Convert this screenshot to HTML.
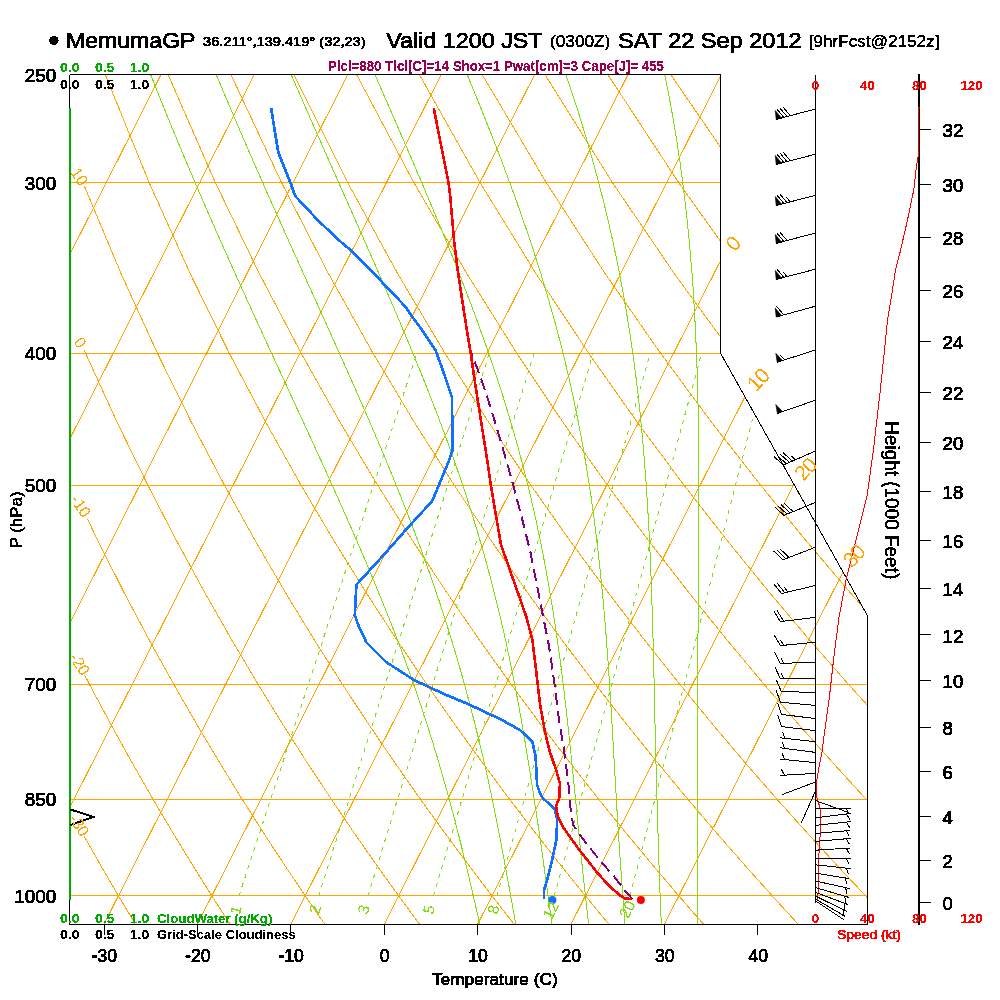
<!DOCTYPE html>
<html><head><meta charset="utf-8"><title>Skew-T MemumaGP</title>
<style>html,body{margin:0;padding:0;background:#fff;overflow:hidden}svg{display:block}text{font-family:"Liberation Sans",sans-serif}</style>
</head><body>
<svg width="1000" height="1000" viewBox="0 0 1000 1000">
<rect width="1000" height="1000" fill="#fff"/>
<defs><clipPath id="fc"><path d="M69.5,74.5 L720.5,74.5 L720.5,353.13 L867.5,615.75 L867.5,924.5 L69.5,924.5 Z"/></clipPath><filter id="thr" x="0" y="0" width="1000" height="1000" filterUnits="userSpaceOnUse" color-interpolation-filters="sRGB"><feComponentTransfer><feFuncA type="discrete" tableValues="0 0 1 1 1"/></feComponentTransfer></filter><filter id="thr2" x="0" y="0" width="1000" height="1000" filterUnits="userSpaceOnUse" color-interpolation-filters="sRGB"><feComponentTransfer><feFuncA type="discrete" tableValues="0 0 0 1 1 1"/></feComponentTransfer></filter></defs>
<g clip-path="url(#fc)" shape-rendering="crispEdges">
<path d="M69.5,182.5 L720.5,182.5" fill="none" stroke="#FFA500" stroke-width="1" />
<path d="M69.5,353.5 L720.71,353.5" fill="none" stroke="#FFA500" stroke-width="1" />
<path d="M69.5,485.5 L794.59,485.5" fill="none" stroke="#FFA500" stroke-width="1" />
<path d="M69.5,684.5 L867.5,684.5" fill="none" stroke="#FFA500" stroke-width="1" />
<path d="M69.5,799.5 L867.5,799.5" fill="none" stroke="#FFA500" stroke-width="1" />
<path d="M69.5,895.5 L867.5,895.5" fill="none" stroke="#FFA500" stroke-width="1" />
<path d="M-550.03,924.75 L-52.29,-57.42" fill="none" stroke="#FFA500" stroke-width="1" />
<path d="M-456.63,924.75 L41.11,-57.42" fill="none" stroke="#FFA500" stroke-width="1" />
<path d="M-363.23,924.75 L134.51,-57.42" fill="none" stroke="#FFA500" stroke-width="1" />
<path d="M-269.83,924.75 L227.91,-57.42" fill="none" stroke="#FFA500" stroke-width="1" />
<path d="M-176.43,924.75 L321.31,-57.42" fill="none" stroke="#FFA500" stroke-width="1" />
<path d="M-83.03,924.75 L414.71,-57.42" fill="none" stroke="#FFA500" stroke-width="1" />
<path d="M10.37,924.75 L508.11,-57.42" fill="none" stroke="#FFA500" stroke-width="1" />
<path d="M103.77,924.75 L601.51,-57.42" fill="none" stroke="#FFA500" stroke-width="1" />
<path d="M197.17,924.75 L694.91,-57.42" fill="none" stroke="#FFA500" stroke-width="1" />
<path d="M290.57,924.75 L788.31,-57.42" fill="none" stroke="#FFA500" stroke-width="1" />
<path d="M383.97,924.75 L881.71,-57.42" fill="none" stroke="#FFA500" stroke-width="1" />
<path d="M477.37,924.75 L975.11,-57.42" fill="none" stroke="#FFA500" stroke-width="1" />
<path d="M570.77,924.75 L1068.51,-57.42" fill="none" stroke="#FFA500" stroke-width="1" />
<path d="M664.17,924.75 L1161.91,-57.42" fill="none" stroke="#FFA500" stroke-width="1" />
<path d="M84.21,836.25 L100.74,865.47 L118.41,895.85 L135.68,924.75" fill="none" stroke="#FFA500" stroke-width="1" />
<path d="M84.65,675 L89.58,684.59 L111.42,725.46 L132.61,763.68 L153.21,799.59 L173.25,833.45 L192.78,865.47 L211.81,895.85 L230.39,924.75" fill="none" stroke="#FFA500" stroke-width="1" />
<path d="M87.35,518.75 L98.39,541.75 L124.47,593.29 L149.62,640.7 L173.92,684.59 L197.44,725.46 L220.24,763.68 L242.37,799.59 L263.88,833.45 L284.82,865.47 L305.21,895.85 L325.11,924.75" fill="none" stroke="#FFA500" stroke-width="1" />
<path d="M84.35,350.4 L85.51,353.13 L117.41,422.9 L147.89,485.3 L177.11,541.75 L205.17,593.29 L232.19,640.7 L258.26,684.59 L283.46,725.46 L307.86,763.68 L331.53,799.59 L354.51,833.45 L376.86,865.47 L398.61,895.85 L419.82,924.75" fill="none" stroke="#FFA500" stroke-width="1" />
<path d="M84.53,186.4 L121.21,274.04 L157.38,353.13 L191.74,422.9 L224.5,485.3 L255.83,541.75 L285.88,593.29 L314.76,640.7 L342.6,684.59 L369.49,725.46 L395.49,763.68 L420.69,799.59 L445.14,833.45 L468.9,865.47 L492.01,895.85 L514.53,924.75" fill="none" stroke="#FFA500" stroke-width="1" />
<path d="M82.29,12.35 L105.33,74.75 L149.19,182.74 L190.38,274.04 L229.24,353.13 L266.07,422.9 L301.1,485.3 L334.55,541.75 L366.58,593.29 L397.34,640.7 L426.95,684.59 L455.51,725.46 L483.12,763.68 L509.84,799.59 L535.77,833.45 L560.94,865.47 L585.41,895.85 L609.24,924.75" fill="none" stroke="#FFA500" stroke-width="1" />
<path d="M143.25,12.35 L168.16,74.75 L215.39,182.74 L259.56,274.04 L301.11,353.13 L340.4,422.9 L377.71,485.3 L413.27,541.75 L447.28,593.29 L479.91,640.7 L511.29,684.59 L541.53,725.46 L570.74,763.68 L599,799.59 L626.39,833.45 L652.98,865.47 L678.81,895.85 L703.96,924.75" fill="none" stroke="#FFA500" stroke-width="1" />
<path d="M204.21,12.35 L230.99,74.75 L281.58,182.74 L328.73,274.04 L372.98,353.13 L414.73,422.9 L454.31,485.3 L491.99,541.75 L527.99,593.29 L562.48,640.7 L595.63,684.59 L627.55,725.46 L658.37,763.68 L688.16,799.59 L717.02,833.45 L745.02,865.47 L772.21,895.85 L798.67,924.75" fill="none" stroke="#FFA500" stroke-width="1" />
<path d="M265.18,12.35 L293.82,74.75 L347.77,182.74 L397.91,274.04 L444.85,353.13 L489.06,422.9 L530.91,485.3 L570.71,541.75 L608.69,593.29 L645.06,640.7 L679.97,684.59 L713.58,725.46 L745.99,763.68 L777.32,799.59 L807.65,833.45 L837.06,865.47 L865.61,895.85 L893.38,924.75" fill="none" stroke="#FFA500" stroke-width="1" />
<path d="M326.14,12.35 L356.65,74.75 L413.96,182.74 L467.08,274.04 L516.72,353.13 L563.39,422.9 L607.52,485.3 L649.43,541.75 L689.4,593.29 L727.63,640.7 L764.31,684.59 L799.6,725.46 L833.62,763.68 L866.48,799.59 L898.28,833.45 L929.1,865.47 L959.01,895.85 L988.09,924.75" fill="none" stroke="#FFA500" stroke-width="1" />
<path d="M387.1,12.35 L419.48,74.75 L480.15,182.74 L536.26,274.04 L588.58,353.13 L637.72,422.9 L684.12,485.3 L728.15,541.75 L770.1,593.29 L810.2,640.7 L848.66,684.59 L885.62,725.46 L921.24,763.68 L955.63,799.59 L988.9,833.45 L1021.14,865.47 L1052.41,895.85 L1082.81,924.75" fill="none" stroke="#FFA500" stroke-width="1" />
<path d="M448.07,12.35 L482.3,74.75 L546.34,182.74 L605.44,274.04 L660.45,353.13 L712.05,422.9 L760.73,485.3 L806.88,541.75 L850.81,593.29 L892.78,640.7 L933,684.59 L971.65,725.46 L1008.87,763.68 L1044.79,799.59 L1079.53,833.45 L1113.18,865.47 L1145.81,895.85 L1177.52,924.75" fill="none" stroke="#FFA500" stroke-width="1" />
<path d="M509.03,12.35 L545.13,74.75 L612.54,182.74 L674.61,274.04 L732.32,353.13 L786.38,422.9 L837.33,485.3 L885.6,541.75 L931.51,593.29 L975.35,640.7 L1017.34,684.59 L1057.67,725.46 L1096.49,763.68 L1133.95,799.59 L1170.16,833.45 L1205.22,865.47 L1239.21,895.85 L1272.23,924.75" fill="none" stroke="#FFA500" stroke-width="1" />
<path d="M570,12.35 L607.96,74.75 L678.73,182.74 L743.79,274.04 L804.19,353.13 L860.71,422.9 L913.94,485.3 L964.32,541.75 L1012.22,593.29 L1057.93,640.7 L1101.68,684.59 L1143.69,725.46 L1184.12,763.68 L1223.11,799.59 L1260.79,833.45 L1297.26,865.47 L1332.61,895.85 L1366.94,924.75" fill="none" stroke="#FFA500" stroke-width="1" />
<path d="M630.96,12.35 L670.79,74.75 L744.92,182.74 L812.96,274.04 L876.06,353.13 L935.04,422.9 L990.54,485.3 L1043.04,541.75 L1092.92,593.29 L1140.5,640.7 L1186.03,684.59 L1229.72,725.46 L1271.74,763.68 L1312.27,799.59 L1351.41,833.45 L1389.3,865.47 L1426.01,895.85 L1461.65,924.75" fill="none" stroke="#FFA500" stroke-width="1" />
<path d="M691.92,12.35 L733.62,74.75 L811.11,182.74 L882.14,274.04 L947.93,353.13 L1009.37,422.9 L1067.14,485.3 L1121.76,541.75 L1173.63,593.29 L1223.07,640.7 L1270.37,684.59 L1315.74,725.46 L1359.37,763.68 L1401.43,799.59 L1442.04,833.45 L1481.34,865.47 L1519.41,895.85 L1556.37,924.75" fill="none" stroke="#FFA500" stroke-width="1" />
<path d="M752.89,12.35 L796.45,74.75 L877.3,182.74 L951.31,274.04 L1019.79,353.13 L1083.7,422.9 L1143.75,485.3 L1200.48,541.75 L1254.33,593.29 L1305.65,640.7 L1354.71,684.59 L1401.76,725.46 L1447,763.68 L1490.58,799.59 L1532.67,833.45 L1573.38,865.47 L1612.81,895.85 L1651.08,924.75" fill="none" stroke="#FFA500" stroke-width="1" />
<path d="M813.85,12.35 L859.28,74.75 L943.49,182.74 L1020.49,274.04 L1091.66,353.13 L1158.03,422.9 L1220.35,485.3 L1279.2,541.75 L1335.03,593.29 L1388.22,640.7 L1439.05,684.59 L1487.78,725.46 L1534.62,763.68 L1579.74,799.59 L1623.3,833.45 L1665.42,865.47 L1706.21,895.85 L1745.79,924.75" fill="none" stroke="#FFA500" stroke-width="1" />
<path d="M874.81,12.35 L922.1,74.75 L1009.69,182.74 L1089.66,274.04 L1163.53,353.13 L1232.36,422.9 L1296.96,485.3 L1357.92,541.75 L1415.74,593.29 L1470.79,640.7 L1523.39,684.59 L1573.81,725.46 L1622.25,763.68 L1668.9,799.59 L1713.92,833.45 L1757.46,865.47 L1799.61,895.85 L1840.5,924.75" fill="none" stroke="#FFA500" stroke-width="1" />
<path d="M935.78,12.35 L984.93,74.75 L1075.88,182.74 L1158.84,274.04 L1235.4,353.13 L1306.69,422.9 L1373.56,485.3 L1436.64,541.75 L1496.44,593.29 L1553.37,640.7 L1607.74,684.59 L1659.83,725.46 L1709.87,763.68 L1758.06,799.59 L1804.55,833.45 L1849.49,865.47 L1893.01,895.85 L1935.22,924.75" fill="none" stroke="#FFA500" stroke-width="1" />
<path d="M996.74,12.35 L1047.76,74.75 L1142.07,182.74 L1228.01,274.04 L1307.27,353.13 L1381.02,422.9 L1450.16,485.3 L1515.36,541.75 L1577.15,593.29 L1635.94,640.7 L1692.08,684.59 L1745.85,725.46 L1797.5,763.68 L1847.22,799.59 L1895.18,833.45 L1941.53,865.47 L1986.41,895.85 L2029.93,924.75" fill="none" stroke="#FFA500" stroke-width="1" />
<path d="M479.92,924.75 L478.63,919.08 L477.34,913.36 L476.02,907.58 L474.69,901.75 L473.33,895.85 L471.95,889.9 L470.55,883.89 L469.11,877.81 L467.64,871.67 L466.14,865.47 L464.65,859.2 L463.09,852.87 L461.51,846.46 L459.89,839.99 L458.23,833.45 L456.53,826.83 L454.79,820.14 L453,813.37 L451.17,806.52 L449.3,799.59 L447.37,792.58 L445.4,785.49 L443.36,778.31 L441.28,771.04 L439.13,763.68 L436.92,756.23 L434.64,748.69 L432.3,741.05 L429.88,733.3 L427.39,725.46 L424.83,717.51 L422.18,709.45 L419.45,701.28 L416.63,692.99 L413.72,684.59 L410.72,676.07 L407.62,667.42 L404.42,658.65 L401.16,649.74 L397.75,640.7 L394.21,631.52 L390.57,622.19 L386.81,612.71 L382.94,603.08 L378.95,593.29 L374.85,583.33 L370.63,573.21 L366.28,562.91 L361.81,552.43 L357.21,541.75 L352.48,530.88 L347.62,519.81 L342.62,508.53 L337.49,497.03 L332.22,485.3 L326.8,473.33 L321.25,461.12 L315.55,448.65 L309.7,435.91 L303.71,422.9 L297.57,409.59 L291.28,395.97 L284.84,382.03 L278.24,367.76 L271.49,353.13 L264.59,338.14 L257.53,322.75 L250.3,306.96 L242.92,290.73 L235.38,274.04 L227.67,256.87 L219.8,239.19 L211.76,220.97 L203.55,202.16 L195.17,182.74 L186.62,162.66 L177.9,141.87 L169.01,120.33 L159.95,97.98 L150.71,74.75" fill="none" stroke="#80DD10" stroke-width="1" />
<path d="M515.87,924.75 L514.85,919.08 L513.83,913.36 L512.79,907.58 L511.75,901.75 L510.69,895.85 L509.62,889.9 L508.53,883.89 L507.43,877.81 L506.3,871.67 L505.14,865.47 L504.01,859.2 L502.82,852.87 L501.62,846.46 L500.38,839.99 L499.12,833.45 L497.83,826.83 L496.51,820.14 L495.15,813.37 L493.76,806.52 L492.33,799.59 L490.87,792.58 L489.35,785.49 L487.79,778.31 L486.19,771.04 L484.51,763.68 L482.77,756.23 L480.97,748.69 L479.13,741.05 L477.23,733.3 L475.27,725.46 L473.26,717.51 L471.18,709.45 L469.04,701.28 L466.82,692.99 L464.53,684.59 L462.16,676.07 L459.7,667.42 L457.16,658.65 L454.52,649.74 L451.79,640.7 L448.95,631.52 L446.04,622.19 L442.99,612.71 L439.84,603.08 L436.57,593.29 L433.17,583.33 L429.64,573.21 L425.99,562.91 L422.19,552.43 L418.25,541.75 L414.17,530.88 L409.93,519.81 L405.54,508.53 L400.99,497.03 L396.28,485.3 L391.4,473.33 L386.34,461.12 L381.12,448.65 L375.71,435.91 L370.12,422.9 L364.35,409.59 L358.39,395.97 L352.24,382.03 L345.89,367.76 L339.35,353.13 L332.62,338.14 L325.68,322.75 L318.55,306.96 L311.2,290.73 L303.65,274.04 L295.9,256.87 L287.93,239.19 L279.75,220.97 L271.35,202.16 L262.73,182.74 L253.9,162.66 L244.84,141.87 L235.56,120.33 L226.05,97.98 L216.32,74.75" fill="none" stroke="#80DD10" stroke-width="1" />
<path d="M552.04,924.75 L551.25,919.08 L550.45,913.36 L549.66,907.58 L548.86,901.75 L548.05,895.85 L547.24,889.9 L546.42,883.89 L545.59,877.81 L544.74,871.67 L543.87,865.47 L542.99,859.2 L542.14,852.87 L541.24,846.46 L540.32,839.99 L539.35,833.45 L538.36,826.83 L537.36,820.14 L536.35,813.37 L535.31,806.52 L534.26,799.59 L533.19,792.58 L532.09,785.49 L530.97,778.31 L529.83,771.04 L528.65,763.68 L527.44,756.23 L526.2,748.69 L524.93,741.05 L523.61,733.3 L522.25,725.46 L520.85,717.51 L519.4,709.45 L517.9,701.28 L516.34,692.99 L514.73,684.59 L513.06,676.07 L511.31,667.42 L509.5,658.65 L507.62,649.74 L505.65,640.7 L503.6,631.52 L501.46,622.19 L499.22,612.71 L496.88,603.08 L494.43,593.29 L491.88,583.33 L489.2,573.21 L486.4,562.91 L483.47,552.43 L480.4,541.75 L477.18,530.88 L473.81,519.81 L470.28,508.53 L466.58,497.03 L462.71,485.3 L458.66,473.33 L454.42,461.12 L449.99,448.65 L445.35,435.91 L440.5,422.9 L435.44,409.59 L430.15,395.97 L424.64,382.03 L418.89,367.76 L412.9,353.13 L406.66,338.14 L400.17,322.75 L393.43,306.96 L386.43,290.73 L379.16,274.04 L371.63,256.87 L363.82,239.19 L355.74,220.97 L347.45,202.16 L338.82,182.74 L329.9,162.66 L320.69,141.87 L311.18,120.33 L301.38,97.98 L291.28,74.75" fill="none" stroke="#80DD10" stroke-width="1" />
<path d="M588.6,924.75 L587.98,919.08 L587.35,913.36 L586.71,907.58 L586.07,901.75 L585.41,895.85 L584.75,889.9 L584.09,883.89 L583.43,877.81 L582.78,871.67 L582.12,865.47 L581.46,859.2 L580.8,852.87 L580.18,846.46 L579.53,839.99 L578.88,833.45 L578.22,826.83 L577.56,820.14 L576.89,813.37 L576.22,806.52 L575.54,799.59 L574.85,792.58 L574.15,785.49 L573.43,778.31 L572.7,771.04 L571.96,763.68 L571.19,756.23 L570.41,748.69 L569.61,741.05 L568.78,733.3 L567.92,725.46 L567.03,717.51 L566.16,709.45 L565.22,701.28 L564.24,692.99 L563.23,684.59 L562.17,676.07 L561.06,667.42 L559.91,658.65 L558.7,649.74 L557.43,640.7 L556.11,631.52 L554.71,622.19 L553.25,612.71 L551.71,603.08 L550.08,593.29 L548.37,583.33 L546.57,573.21 L544.66,562.91 L542.65,552.43 L540.5,541.75 L538.27,530.88 L535.9,519.81 L533.37,508.53 L530.7,497.03 L527.88,485.3 L524.88,473.33 L521.72,461.12 L518.36,448.65 L514.81,435.91 L511.04,422.9 L507.06,409.59 L502.84,395.97 L498.38,382.03 L493.67,367.76 L488.68,353.13 L483.42,338.14 L477.87,322.75 L472.01,306.96 L465.84,290.73 L459.35,274.04 L452.52,256.87 L445.41,239.19 L437.9,220.97 L430.05,202.16 L421.82,182.74 L413.23,162.66 L404.25,141.87 L394.89,120.33 L385.14,97.98 L374.99,74.75" fill="none" stroke="#80DD10" stroke-width="1" />
<path d="M625,924.75 L624.55,919.08 L624.1,913.36 L623.65,907.58 L623.21,901.75 L622.77,895.85 L622.34,889.9 L621.91,883.89 L621.47,877.81 L621.03,871.67 L620.59,865.47 L620.18,859.2 L619.75,852.87 L619.31,846.46 L618.87,839.99 L618.43,833.45 L618,826.83 L617.59,820.14 L617.18,813.37 L616.77,806.52 L616.36,799.59 L615.96,792.58 L615.55,785.49 L615.14,778.31 L614.72,771.04 L614.3,763.68 L613.87,756.23 L613.44,748.69 L612.99,741.05 L612.53,733.3 L612.11,725.46 L611.64,717.51 L611.15,709.45 L610.65,701.28 L610.13,692.99 L609.59,684.59 L609.03,676.07 L608.44,667.42 L607.82,658.65 L607.17,649.74 L606.49,640.7 L605.77,631.52 L605.01,622.19 L604.21,612.71 L603.36,603.08 L602.45,593.29 L601.49,583.33 L600.47,573.21 L599.38,562.91 L598.22,552.43 L596.98,541.75 L595.66,530.88 L594.24,519.81 L592.72,508.53 L591.09,497.03 L589.35,485.3 L587.47,473.33 L585.46,461.12 L583.31,448.65 L580.97,435.91 L578.5,422.9 L575.83,409.59 L572.96,395.97 L569.87,382.03 L566.56,367.76 L563.01,353.13 L559.19,338.14 L555.09,322.75 L550.7,306.96 L545.98,290.73 L540.91,274.04 L535.49,256.87 L529.68,239.19 L523.46,220.97 L516.86,202.16 L509.8,182.74 L502.28,162.66 L494.28,141.87 L485.78,120.33 L476.78,97.98 L467.25,74.75" fill="none" stroke="#80DD10" stroke-width="1" />
<path d="M661.38,924.75 L661.11,919.08 L660.86,913.36 L660.61,907.58 L660.37,901.75 L660.13,895.85 L659.9,889.9 L659.68,883.89 L659.46,877.81 L659.24,871.67 L659.02,865.47 L658.8,859.2 L658.62,852.87 L658.42,846.46 L658.22,839.99 L658.02,833.45 L657.83,826.83 L657.63,820.14 L657.44,813.37 L657.24,806.52 L657.04,799.59 L656.85,792.58 L656.65,785.49 L656.44,778.31 L656.23,771.04 L656.02,763.68 L655.8,756.23 L655.61,748.69 L655.42,741.05 L655.23,733.3 L655.04,725.46 L654.9,717.51 L654.72,709.45 L654.53,701.28 L654.35,692.99 L654.16,684.59 L653.96,676.07 L653.76,667.42 L653.54,658.65 L653.32,649.74 L653.08,640.7 L652.83,631.52 L652.57,622.19 L652.28,612.71 L651.98,603.08 L651.65,593.29 L651.29,583.33 L650.91,573.21 L650.49,562.91 L650.04,552.43 L649.54,541.75 L649,530.88 L648.41,519.81 L647.71,508.53 L647,497.03 L646.22,485.3 L645.36,473.33 L644.42,461.12 L643.39,448.65 L642.27,435.91 L641.03,422.9 L639.74,409.59 L638.24,395.97 L636.59,382.03 L634.78,367.76 L632.76,353.13 L630.61,338.14 L628.22,322.75 L625.61,306.96 L622.74,290.73 L619.6,274.04 L616.16,256.87 L612.39,239.19 L608.26,220.97 L603.73,202.16 L598.76,182.74 L593.3,162.66 L587.36,141.87 L580.86,120.33 L573.78,97.98 L566.07,74.75" fill="none" stroke="#80DD10" stroke-width="1" />
<path d="M697.94,924.75 L697.84,919.08 L697.74,913.36 L697.65,907.58 L697.57,901.75 L697.49,895.85 L697.43,889.9 L697.37,883.89 L697.31,877.81 L697.26,871.67 L697.22,865.47 L697.17,859.2 L697.17,852.87 L697.14,846.46 L697.13,839.99 L697.12,833.45 L697.11,826.83 L697.11,820.14 L697.12,813.37 L697.13,806.52 L697.14,799.59 L697.16,792.58 L697.18,785.49 L697.21,778.31 L697.24,771.04 L697.27,763.68 L697.3,756.23 L697.34,748.69 L697.37,741.05 L697.41,733.3 L697.44,725.46 L697.48,717.51 L697.5,709.45 L697.58,701.28 L697.61,692.99 L697.64,684.59 L697.66,676.07 L697.72,667.42 L697.79,658.65 L697.87,649.74 L697.95,640.7 L698.03,631.52 L698.12,622.19 L698.22,612.71 L698.31,603.08 L698.4,593.29 L698.5,583.33 L698.59,573.21 L698.67,562.91 L698.76,552.43 L698.83,541.75 L698.86,530.88 L698.9,519.81 L698.93,508.53 L698.94,497.03 L698.92,485.3 L698.88,473.33 L698.81,461.12 L698.71,448.65 L698.56,435.91 L698.37,422.9 L698.13,409.59 L697.83,395.97 L697.45,382.03 L697.01,367.76 L696.47,353.13 L695.83,338.14 L695.09,322.75 L694.21,306.96 L693.25,290.73 L692.08,274.04 L690.57,256.87 L689.07,239.19 L687.26,220.97 L685.18,202.16 L682.8,182.74 L680.08,162.66 L676.97,141.87 L673.43,120.33 L669.37,97.98 L664.81,74.75" fill="none" stroke="#80DD10" stroke-width="1" />
<path d="M238.98,895.85 L416.95,353.13" fill="none" stroke="#80DD10" stroke-width="1" stroke-dasharray="4 5.4"/>
<path d="M318.68,895.85 L489.36,353.13" fill="none" stroke="#80DD10" stroke-width="1" stroke-dasharray="4 5.4"/>
<path d="M368.1,895.85 L534.1,353.13" fill="none" stroke="#80DD10" stroke-width="1" stroke-dasharray="4 5.4"/>
<path d="M433.53,895.85 L593.15,353.13" fill="none" stroke="#80DD10" stroke-width="1" stroke-dasharray="4 5.4"/>
<path d="M497,895.85 L650.24,353.13" fill="none" stroke="#80DD10" stroke-width="1" stroke-dasharray="4 5.4"/>
<path d="M554.35,895.85 L701.7,353.13" fill="none" stroke="#80DD10" stroke-width="1" stroke-dasharray="4 5.4"/>
<path d="M630.04,895.85 L769.39,353.13" fill="none" stroke="#80DD10" stroke-width="1" stroke-dasharray="4 5.4"/>
</g>
<g shape-rendering="crispEdges">
<path d="M69.5,74.5 L720.5,74.5 L720.5,353.13 L867.5,615.75 L867.5,924.5 L69.5,924.5 L69.5,74.5" fill="none" stroke="#000" stroke-width="1" />
<path d="M104.5,924.5 L104.5,935" fill="none" stroke="#000" stroke-width="1" />
<path d="M197.5,924.5 L197.5,935" fill="none" stroke="#000" stroke-width="1" />
<path d="M290.5,924.5 L290.5,935" fill="none" stroke="#000" stroke-width="1" />
<path d="M384.5,924.5 L384.5,935" fill="none" stroke="#000" stroke-width="1" />
<path d="M477.5,924.5 L477.5,935" fill="none" stroke="#000" stroke-width="1" />
<path d="M571.5,924.5 L571.5,935" fill="none" stroke="#000" stroke-width="1" />
<path d="M664.5,924.5 L664.5,935" fill="none" stroke="#000" stroke-width="1" />
<path d="M757.5,924.5 L757.5,935" fill="none" stroke="#000" stroke-width="1" />
<path d="M815.5,74.5 L815.5,902.5" fill="none" stroke="#000" stroke-width="1" />
<path d="M919,74 L919,925" fill="none" stroke="#000" stroke-width="2" />
<path d="M920,902.5 L930.5,902.5" fill="none" stroke="#000" stroke-width="1" />
<path d="M920,860.5 L930.5,860.5" fill="none" stroke="#000" stroke-width="1" />
<path d="M920,816.5 L930.5,816.5" fill="none" stroke="#000" stroke-width="1" />
<path d="M920,771.5 L930.5,771.5" fill="none" stroke="#000" stroke-width="1" />
<path d="M920,727.5 L930.5,727.5" fill="none" stroke="#000" stroke-width="1" />
<path d="M920,680.5 L930.5,680.5" fill="none" stroke="#000" stroke-width="1" />
<path d="M920,634.5 L930.5,634.5" fill="none" stroke="#000" stroke-width="1" />
<path d="M920,588.5 L930.5,588.5" fill="none" stroke="#000" stroke-width="1" />
<path d="M920,540.5 L930.5,540.5" fill="none" stroke="#000" stroke-width="1" />
<path d="M920,491.5 L930.5,491.5" fill="none" stroke="#000" stroke-width="1" />
<path d="M920,442.5 L930.5,442.5" fill="none" stroke="#000" stroke-width="1" />
<path d="M920,392.5 L930.5,392.5" fill="none" stroke="#000" stroke-width="1" />
<path d="M920,341.5 L930.5,341.5" fill="none" stroke="#000" stroke-width="1" />
<path d="M920,290.5 L930.5,290.5" fill="none" stroke="#000" stroke-width="1" />
<path d="M920,237.5 L930.5,237.5" fill="none" stroke="#000" stroke-width="1" />
<path d="M920,184.5 L930.5,184.5" fill="none" stroke="#000" stroke-width="1" />
<path d="M920,129.5 L930.5,129.5" fill="none" stroke="#000" stroke-width="1" />
<path d="M70,108 L70,900" fill="none" stroke="#00AA00" stroke-width="2" />
</g>
<path d="M70.5,809.5 L93.5,817 L70.5,825" fill="none" stroke="#000" stroke-width="2" shape-rendering="crispEdges"/>
<g stroke="#000" stroke-width="0.6" filter="url(#thr)">
<text x="942.5" y="909.5" font-size="18.5" fill="#000" textLength="10.3" lengthAdjust="spacingAndGlyphs" >0</text>
<text x="942.5" y="867.5" font-size="18.5" fill="#000" textLength="10.3" lengthAdjust="spacingAndGlyphs" >2</text>
<text x="942.5" y="823.75" font-size="18.5" fill="#000" textLength="10.3" lengthAdjust="spacingAndGlyphs" >4</text>
<text x="942.5" y="779.25" font-size="18.5" fill="#000" textLength="10.3" lengthAdjust="spacingAndGlyphs" >6</text>
<text x="942.5" y="735" font-size="18.5" fill="#000" textLength="10.3" lengthAdjust="spacingAndGlyphs" >8</text>
<text x="942.5" y="688.25" font-size="18.5" fill="#000" textLength="20.8" lengthAdjust="spacingAndGlyphs" >10</text>
<text x="942.5" y="642.5" font-size="18.5" fill="#000" textLength="20.8" lengthAdjust="spacingAndGlyphs" >12</text>
<text x="942.5" y="595.5" font-size="18.5" fill="#000" textLength="20.8" lengthAdjust="spacingAndGlyphs" >14</text>
<text x="942.5" y="547.5" font-size="18.5" fill="#000" textLength="20.8" lengthAdjust="spacingAndGlyphs" >16</text>
<text x="942.5" y="498.75" font-size="18.5" fill="#000" textLength="20.8" lengthAdjust="spacingAndGlyphs" >18</text>
<text x="942.5" y="449.5" font-size="18.5" fill="#000" textLength="20.8" lengthAdjust="spacingAndGlyphs" >20</text>
<text x="942.5" y="399.5" font-size="18.5" fill="#000" textLength="20.8" lengthAdjust="spacingAndGlyphs" >22</text>
<text x="942.5" y="349.25" font-size="18.5" fill="#000" textLength="20.8" lengthAdjust="spacingAndGlyphs" >24</text>
<text x="942.5" y="298" font-size="18.5" fill="#000" textLength="20.8" lengthAdjust="spacingAndGlyphs" >26</text>
<text x="942.5" y="245" font-size="18.5" fill="#000" textLength="20.8" lengthAdjust="spacingAndGlyphs" >28</text>
<text x="942.5" y="192" font-size="18.5" fill="#000" textLength="20.8" lengthAdjust="spacingAndGlyphs" >30</text>
<text x="942.5" y="137" font-size="18.5" fill="#000" textLength="20.8" lengthAdjust="spacingAndGlyphs" >32</text>
</g>
<g shape-rendering="crispEdges" stroke-linejoin="round">
<path d="M919,107.5 L918.5,153.75 L916.25,167.5 L913.75,190 L907.5,220 L900,252.5 L895.5,270 L891.25,297.5 L887.5,320 L884.5,350 L879.8,394.6 L873.5,449.2 L867.2,495.4 L856.7,537.4 L846.2,579.4 L839,617.2 L833.6,659.2 L829.4,697 L823.5,740 L822.1,751.9 L818.7,768.9 L816.5,782.5 L817,797.8 L820.1,808 L820.1,835.2 L818.7,859 L817.9,899.8" fill="none" stroke="#FF0000" stroke-width="1" />
<path d="M632.4,899.1 L625.2,890.8 L614,876.4 L601.2,862 L588.4,846 L578,832.4 L573.2,825.2 L570.8,810.8 L568.4,783.6 L565.2,759.6 L564.1,750 L559,720 L554,680 L549,646 L544,621 L537.6,588.8 L530.4,552 L521.6,516.8 L512,480.6 L501.6,444 L491.2,409.6 L481.6,380 L470,349.6" fill="none" stroke="#800080" stroke-width="2" stroke-dasharray="12 6"/>
<path d="M271.2,108.3 L274.4,128.8 L278.4,152.8 L284.8,168.8 L291.2,184.8 L295.2,196 L306.4,208 L318.4,220.8 L331.2,232.8 L341.1,242.1 L351.4,250.7 L361.2,260.5 L370.8,270.1 L386.8,287.2 L405.2,306.4 L411.6,316 L421.2,328.8 L435.6,350.4 L442,368 L447.6,384 L452,397.6 L452.5,450.4 L448,463.2 L432,501.6 L422.8,511.2 L406.8,528.8 L382.8,556 L356.4,584.8 L354.8,615.2 L358.8,626.4 L366.5,642.6 L386,662 L414,680 L444,694 L468,704 L500,719 L520,730 L532.4,742 L535.6,756 L537.1,785 L539.6,792.4 L542.8,798 L554.8,809.2 L557.2,818.8 L556.4,839.6 L552.4,858.8 L546.8,881.2 L543.9,890.8 L543.9,898.8" fill="none" stroke="#1070FF" stroke-width="2.7" />
<path d="M433.75,108 L441,145 L448.5,182.5 L450.2,196 L454,240 L458,272 L462.8,304 L466.8,329.6 L470.8,353.6 L474.6,380 L481.6,424.8 L487.2,460 L490.4,482.4 L494.4,506 L500.8,544 L512,576 L526.4,617 L532.4,640 L537,678 L540,704 L545,732 L549.6,751 L556.4,770.8 L559.9,783.6 L559.3,798 L556,806 L558,817.2 L562.8,826.8 L578.8,849.2 L596.4,871.6 L609.2,886 L620.4,895.6 L625.2,898.5 L632.4,899.1" fill="none" stroke="#FF0000" stroke-width="2.6" />
</g>
<circle cx="552.4" cy="900.1" r="4" fill="#1070FF"/>
<circle cx="640.9" cy="900.1" r="4" fill="#FF0000"/>
<path d="M815.5,109 L776.2,119.4 M783.84,117.38 L776.47,108.55 M787.03,116.53 L779.66,107.7 M790.22,115.69 L782.85,106.86 M815.5,154.2 L776.2,164.4 M783.85,162.42 L776.52,153.55 M787.04,161.59 L779.72,152.72 M790.23,160.76 L782.91,151.89 M815.5,195.3 L776.2,205.5 M783.85,203.52 L776.52,194.65 M787.04,202.69 L779.72,193.82 M790.23,201.86 L786.1,196.85 M815.5,233 L776.2,243.4 M783.84,241.38 L776.47,232.55 M787.03,240.53 L779.66,231.7 M815.5,269.2 L776.2,279.4 M783.85,277.42 L776.52,268.55 M787.04,276.59 L782.9,271.57 M815.5,306.2 L776.2,317 M783.82,314.91 L776.37,306.14 M815.5,350 L777.2,362.2 M784.73,359.8 L780.32,355.02 M815.5,400.2 L777.4,413.4 M815.5,451 L783.4,465 M783.4,465 L774.03,456.73 M786.42,463.68 L777.05,455.41 M789.45,462.36 L780.08,454.09 M792.47,461.04 L783.1,452.77 M795.5,459.72 L790.63,455.42 M815.5,502.4 L784,515.4 M784,515.4 L774.79,506.94 M787.05,514.14 L777.85,505.68 M790.1,512.88 L780.9,504.43 M793.15,511.62 L783.95,503.17 M815.5,547.2 L782.8,559.8 M782.8,559.8 L773.8,551.13 M785.88,558.61 L776.88,549.94 M788.96,557.43 L779.96,548.76 M815.5,585.4 L781.6,593.6 M781.6,593.6 L773.8,583.83 M784.81,592.82 L777.01,583.05 M788.01,592.05 L783.96,586.97 M815.5,617.4 L780.4,621.6 M780.4,621.6 L773.81,610.98 M783.68,621.21 L777.09,610.59 M815.5,642.2 L780.4,645.6 M780.4,645.6 L774.05,634.83 M783.68,645.28 L780.38,639.68 M815.5,662.2 L780.4,663.4 M780.4,663.4 L774.73,652.26 M783.7,663.29 L780.75,657.49 M815.5,678.4 L780.4,678.6 M780.4,678.6 L775.05,667.3 M783.7,678.58 L780.92,672.71 M815.5,692.4 L781.4,691.6 M781.4,691.6 L776.38,680.15 M815.5,705.4 L780.4,702.2 M780.4,702.2 L776.17,690.44 M815.5,718.6 L781.4,714.4 M781.4,714.4 L777.54,702.51 M815.5,730.6 L781.4,726.6 M781.4,726.6 L777.47,714.73 M815.5,741.8 L780.4,737.8 M784.67,738.29 L782.61,732.12 M815.5,752.4 L780.2,747.8 M784.46,748.36 L782.5,742.16 M815.5,762.6 L780.2,759.2 M784.48,759.61 L782.31,753.49 M815.5,773.4 L780.2,775.4 M784.49,775.16 L781.42,769.43 M815.5,782 L782.2,794.6 M815.5,791 L801.4,822.6 M815.5,800.6 L848.8,812.6 M815.5,808.4 L850.6,808.4 M846.3,808.4 L849.05,814.29 M815.5,817.8 L850.6,813.4 M846.33,813.93 L849.79,819.44 M815.5,825.4 L850.6,821.6 M846.32,822.06 L849.69,827.62 M815.5,833.5 L850.4,830.4 M846.12,830.78 L849.37,836.41 M815.5,841.4 L850.6,838.4 M846.32,838.77 L849.55,844.4 M815.5,850.2 L850.6,848 M846.31,848.27 L849.42,853.98 M815.5,858.6 L850.6,858.6 M846.3,858.6 L849.05,864.49 M815.5,864.8 L850.6,868.6 M846.32,868.14 L848.42,874.29 M815.5,873.2 L849.4,878.6 M845.15,877.92 L846.94,884.17 M815.5,881 L849.8,888.6 M845.6,887.67 L847.01,894.02 M815.5,887.6 L848.8,897.4 M844.67,896.19 L845.65,902.61 M815.5,892.4 L848.2,904.6 M844.17,903.1 L844.69,909.58 M815.5,896 L847,911.6 M843.15,909.69 L842.99,916.19 M815.5,899 L845.2,916.4 M815.5,900.8 L844,919.8" fill="none" stroke="#000" stroke-width="1" shape-rendering="crispEdges"/>
<path d="M776.2,119.4 L781.52,117.99 L775.24,110.47 Z" fill="#000" stroke="#000" stroke-width="0.6"/>
<path d="M776.2,164.4 L781.52,163.02 L775.28,155.46 Z" fill="#000" stroke="#000" stroke-width="0.6"/>
<path d="M776.2,205.5 L781.52,204.12 L775.28,196.56 Z" fill="#000" stroke="#000" stroke-width="0.6"/>
<path d="M776.2,243.4 L781.52,241.99 L775.24,234.47 Z" fill="#000" stroke="#000" stroke-width="0.6"/>
<path d="M776.2,279.4 L781.52,278.02 L775.28,270.46 Z" fill="#000" stroke="#000" stroke-width="0.6"/>
<path d="M776.2,317 L781.5,315.54 L775.16,308.08 Z" fill="#000" stroke="#000" stroke-width="0.6"/>
<path d="M777.2,362.2 L782.44,360.53 L775.8,353.32 Z" fill="#000" stroke="#000" stroke-width="0.6"/>
<path d="M777.4,413.4 L782.6,411.6 L775.78,404.56 Z" fill="#000" stroke="#000" stroke-width="0.6"/>
<g filter="url(#thr)">
<circle cx="53.9" cy="40.5" r="4.6" fill="#000"/>
<g stroke="#000" stroke-width="0.6">
<text x="66" y="47.8" font-size="22.8" fill="#000" textLength="129.5" lengthAdjust="spacingAndGlyphs" >MemumaGP</text>
<text x="203" y="45.6" font-size="13.6" fill="#000" textLength="162.6" lengthAdjust="spacingAndGlyphs" >36.211°,139.419° (32,23)</text>
<text x="386.3" y="47.8" font-size="22.8" fill="#000" textLength="156.3" lengthAdjust="spacingAndGlyphs" >Valid 1200 JST</text>
<text x="550" y="47" font-size="17.2" fill="#000" textLength="60.3" lengthAdjust="spacingAndGlyphs" stroke-width="0.25">(0300Z)</text>
<text x="618" y="47.8" font-size="22.8" fill="#000" textLength="183.6" lengthAdjust="spacingAndGlyphs" >SAT 22 Sep 2012</text>
<text x="808.8" y="47" font-size="17.2" fill="#000" textLength="130.6" lengthAdjust="spacingAndGlyphs" stroke-width="0.25">[9hrFcst@2152z]</text>
<text x="56.3" y="81.65" font-size="18" fill="#000" text-anchor="end" textLength="31.5" lengthAdjust="spacingAndGlyphs" >250</text>
<text x="56.3" y="189.64" font-size="18" fill="#000" text-anchor="end" textLength="31.5" lengthAdjust="spacingAndGlyphs" >300</text>
<text x="56.3" y="360.03" font-size="18" fill="#000" text-anchor="end" textLength="31.5" lengthAdjust="spacingAndGlyphs" >400</text>
<text x="56.3" y="492.2" font-size="18" fill="#000" text-anchor="end" textLength="31.5" lengthAdjust="spacingAndGlyphs" >500</text>
<text x="56.3" y="691.49" font-size="18" fill="#000" text-anchor="end" textLength="31.5" lengthAdjust="spacingAndGlyphs" >700</text>
<text x="56.3" y="806.49" font-size="18" fill="#000" text-anchor="end" textLength="31.5" lengthAdjust="spacingAndGlyphs" >850</text>
<text x="56.3" y="902.75" font-size="18" fill="#000" text-anchor="end" textLength="42" lengthAdjust="spacingAndGlyphs" >1000</text>
<text x="104.37" y="962" font-size="17.6" fill="#000" text-anchor="middle" >-30</text>
<text x="197.77" y="962" font-size="17.6" fill="#000" text-anchor="middle" >-20</text>
<text x="291.17" y="962" font-size="17.6" fill="#000" text-anchor="middle" >-10</text>
<text x="384.57" y="962" font-size="17.6" fill="#000" text-anchor="middle" >0</text>
<text x="477.97" y="962" font-size="17.6" fill="#000" text-anchor="middle" >10</text>
<text x="571.37" y="962" font-size="17.6" fill="#000" text-anchor="middle" >20</text>
<text x="664.77" y="962" font-size="17.6" fill="#000" text-anchor="middle" >30</text>
<text x="758.17" y="962" font-size="17.6" fill="#000" text-anchor="middle" >40</text>
<text x="494.8" y="985.4" font-size="16.6" fill="#000" text-anchor="middle" textLength="125.8" lengthAdjust="spacingAndGlyphs" >Temperature (C)</text>
<text stroke-width="0.3" transform="translate(21.6,520) rotate(-90)" font-size="16.8" text-anchor="middle" textLength="57" lengthAdjust="spacingAndGlyphs">P (hPa)</text>
<text stroke-width="0.25" transform="translate(885.3,500.2) rotate(90)" font-size="19.5" text-anchor="middle" textLength="158" lengthAdjust="spacingAndGlyphs">Height (1000 Feet)</text>
</g>
<text x="328" y="70.5" font-size="14" fill="#99004C" font-weight="bold" textLength="336" lengthAdjust="spacingAndGlyphs" >Plcl=880 Tlcl[C]=14 Shox=1 Pwat[cm]=3 Cape[J]= 455</text>
<text x="69.75" y="71.5" font-size="12.8" fill="#00AA00" text-anchor="middle" font-weight="bold" textLength="19.5" lengthAdjust="spacingAndGlyphs" >0.0</text>
<text x="69.75" y="88.8" font-size="12.8" fill="#000" text-anchor="middle" font-weight="bold" textLength="19.5" lengthAdjust="spacingAndGlyphs" >0.0</text>
<text x="69.75" y="922.9" font-size="12.8" fill="#00AA00" text-anchor="middle" font-weight="bold" textLength="19.5" lengthAdjust="spacingAndGlyphs" >0.0</text>
<text x="69.75" y="938.5" font-size="12.8" fill="#000" text-anchor="middle" font-weight="bold" textLength="19.5" lengthAdjust="spacingAndGlyphs" >0.0</text>
<text x="104.65" y="71.5" font-size="12.8" fill="#00AA00" text-anchor="middle" font-weight="bold" textLength="19.5" lengthAdjust="spacingAndGlyphs" >0.5</text>
<text x="104.65" y="88.8" font-size="12.8" fill="#000" text-anchor="middle" font-weight="bold" textLength="19.5" lengthAdjust="spacingAndGlyphs" >0.5</text>
<text x="104.65" y="922.9" font-size="12.8" fill="#00AA00" text-anchor="middle" font-weight="bold" textLength="19.5" lengthAdjust="spacingAndGlyphs" >0.5</text>
<text x="104.65" y="938.5" font-size="12.8" fill="#000" text-anchor="middle" font-weight="bold" textLength="19.5" lengthAdjust="spacingAndGlyphs" >0.5</text>
<text x="139.5" y="71.5" font-size="12.8" fill="#00AA00" text-anchor="middle" font-weight="bold" textLength="19.5" lengthAdjust="spacingAndGlyphs" >1.0</text>
<text x="139.5" y="88.8" font-size="12.8" fill="#000" text-anchor="middle" font-weight="bold" textLength="19.5" lengthAdjust="spacingAndGlyphs" >1.0</text>
<text x="139.5" y="922.9" font-size="12.8" fill="#00AA00" text-anchor="middle" font-weight="bold" textLength="19.5" lengthAdjust="spacingAndGlyphs" >1.0</text>
<text x="139.5" y="938.5" font-size="12.8" fill="#000" text-anchor="middle" font-weight="bold" textLength="19.5" lengthAdjust="spacingAndGlyphs" >1.0</text>
<text x="157.1" y="922.9" font-size="13.2" fill="#00AA00" font-weight="bold" textLength="115.2" lengthAdjust="spacingAndGlyphs" >CloudWater (g/Kg)</text>
<text x="157.1" y="938.5" font-size="13.2" fill="#000" font-weight="bold" textLength="138.6" lengthAdjust="spacingAndGlyphs" >Grid-Scale Cloudiness</text>
<text x="815.5" y="89.8" font-size="13.3" fill="#FF0000" text-anchor="middle" font-weight="bold" >0</text>
<text x="815.5" y="923" font-size="13.3" fill="#FF0000" text-anchor="middle" font-weight="bold" >0</text>
<text x="867.5" y="89.8" font-size="13.3" fill="#FF0000" text-anchor="middle" font-weight="bold" >40</text>
<text x="867.5" y="923" font-size="13.3" fill="#FF0000" text-anchor="middle" font-weight="bold" >40</text>
<text x="919.5" y="89.8" font-size="13.3" fill="#FF0000" text-anchor="middle" font-weight="bold" >80</text>
<text x="919.5" y="923" font-size="13.3" fill="#FF0000" text-anchor="middle" font-weight="bold" >80</text>
<text x="971.5" y="89.8" font-size="13.3" fill="#FF0000" text-anchor="middle" font-weight="bold" >120</text>
<text x="971.5" y="923" font-size="13.3" fill="#FF0000" text-anchor="middle" font-weight="bold" >120</text>
<text x="837" y="938.8" font-size="13.6" fill="#FF0000" textLength="64" lengthAdjust="spacingAndGlyphs" stroke="#FF0000" stroke-width="0.5">Speed (kt)</text>
</g>
<g filter="url(#thr2)">
<text transform="translate(79.5,176.5) rotate(57)" font-family='"DejaVu Sans Light","DejaVu Sans",sans-serif' font-weight="200" font-size="16" fill="#FFA500" text-anchor="middle" dy="0.36em" letter-spacing="0">10</text>
<text transform="translate(80.4,342.4) rotate(57)" font-family='"DejaVu Sans Light","DejaVu Sans",sans-serif' font-weight="200" font-size="16" fill="#FFA500" text-anchor="middle" dy="0.36em" letter-spacing="0">0</text>
<text transform="translate(81,506) rotate(57)" font-family='"DejaVu Sans Light","DejaVu Sans",sans-serif' font-weight="200" font-size="16" fill="#FFA500" text-anchor="middle" dy="0.36em" letter-spacing="0">-10</text>
<text transform="translate(80,664) rotate(57)" font-family='"DejaVu Sans Light","DejaVu Sans",sans-serif' font-weight="200" font-size="16" fill="#FFA500" text-anchor="middle" dy="0.36em" letter-spacing="0">-20</text>
<text transform="translate(79.5,825) rotate(57)" font-family='"DejaVu Sans Light","DejaVu Sans",sans-serif' font-weight="200" font-size="16" fill="#FFA500" text-anchor="middle" dy="0.36em" letter-spacing="0">-30</text>
<text transform="translate(732.6,243.4) rotate(-47)" font-family='"DejaVu Sans Light","DejaVu Sans",sans-serif' font-weight="200" font-size="21" fill="#FFA500" text-anchor="middle" dy="0.36em" letter-spacing="-1.2">0</text>
<text transform="translate(757.6,379.6) rotate(-47)" font-family='"DejaVu Sans Light","DejaVu Sans",sans-serif' font-weight="200" font-size="21" fill="#FFA500" text-anchor="middle" dy="0.36em" letter-spacing="-1.2">10</text>
<text transform="translate(805.2,469) rotate(-47)" font-family='"DejaVu Sans Light","DejaVu Sans",sans-serif' font-weight="200" font-size="21" fill="#FFA500" text-anchor="middle" dy="0.36em" letter-spacing="-1.2">20</text>
<text transform="translate(853.5,555.9) rotate(-47)" font-family='"DejaVu Sans Light","DejaVu Sans",sans-serif' font-weight="200" font-size="21" fill="#FFA500" text-anchor="middle" dy="0.36em" letter-spacing="-1.2">30</text>
<text transform="translate(235.4,910) rotate(-75)" font-family='"DejaVu Sans Light","DejaVu Sans",sans-serif' font-weight="200" font-size="15.5" fill="#80DD10" text-anchor="middle" dy="0.36em" letter-spacing="0">1</text>
<text transform="translate(314.6,909.3) rotate(-75)" font-family='"DejaVu Sans Light","DejaVu Sans",sans-serif' font-weight="200" font-size="15.5" fill="#80DD10" text-anchor="middle" dy="0.36em" letter-spacing="0">2</text>
<text transform="translate(363.5,909.3) rotate(-75)" font-family='"DejaVu Sans Light","DejaVu Sans",sans-serif' font-weight="200" font-size="15.5" fill="#80DD10" text-anchor="middle" dy="0.36em" letter-spacing="0">3</text>
<text transform="translate(428.6,909.3) rotate(-75)" font-family='"DejaVu Sans Light","DejaVu Sans",sans-serif' font-weight="200" font-size="15.5" fill="#80DD10" text-anchor="middle" dy="0.36em" letter-spacing="0">5</text>
<text transform="translate(493.1,909.3) rotate(-75)" font-family='"DejaVu Sans Light","DejaVu Sans",sans-serif' font-weight="200" font-size="15.5" fill="#80DD10" text-anchor="middle" dy="0.36em" letter-spacing="0">8</text>
<text transform="translate(550.5,910.2) rotate(-62)" font-family='"DejaVu Sans Light","DejaVu Sans",sans-serif' font-weight="200" font-size="15.5" fill="#80DD10" text-anchor="middle" dy="0.36em" letter-spacing="0">12</text>
<text transform="translate(627,909.3) rotate(-62)" font-family='"DejaVu Sans Light","DejaVu Sans",sans-serif' font-weight="200" font-size="15.5" fill="#80DD10" text-anchor="middle" dy="0.36em" letter-spacing="0">20</text>
</g>
</svg>
</body></html>
